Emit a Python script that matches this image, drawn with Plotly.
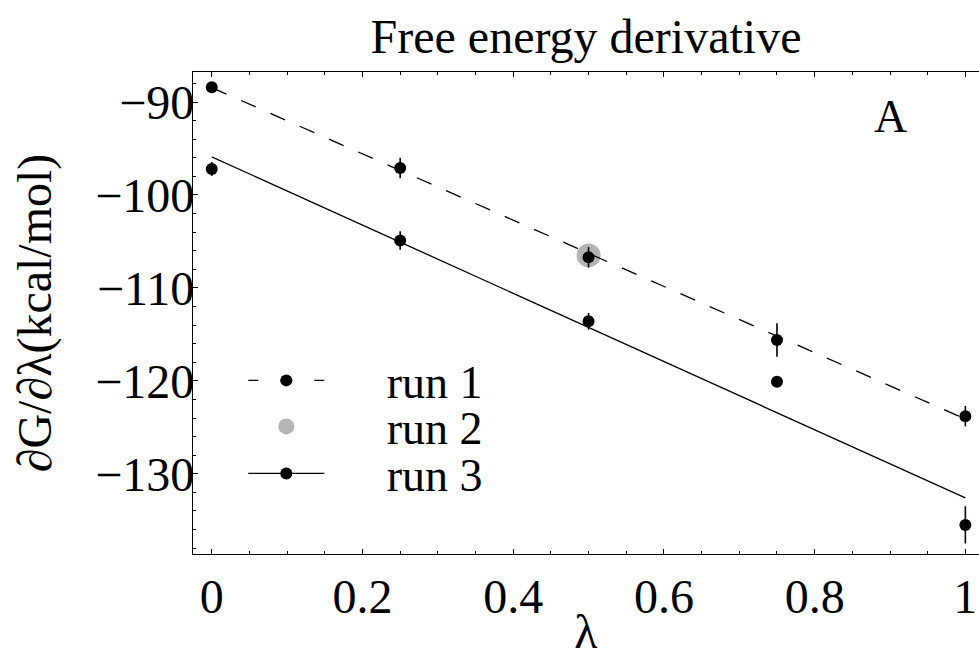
import plotly.graph_objects as go

# ---- data ----
lam = [0, 0.25, 0.5, 0.75, 1]
run1 = [-88.4, -97.1, -106.7, -115.6, -123.8]
run1_err = [0.4, 1.1, 1.1, 1.8, 1.1]
run3 = [-97.2, -104.9, -113.6, -120.1, -135.5]
run3_err = [0.75, 1.0, 0.9, 0.4, 2.0]
run2_lam = [0.5]
run2 = [-106.5]
fit_lam = [0, 1]
fit_run1 = [-88.45, -124.1]
fit_run3 = [-95.9, -132.6]

x_ticks = [0, 0.2, 0.4, 0.6, 0.8, 1]
x_tick_labels = ["0", "0.2", "0.4", "0.6", "0.8", "1"]
y_ticks = [-90, -100, -110, -120, -130]
y_tick_labels = ["\u221290", "\u2212100", "\u2212110", "\u2212120", "\u2212130"]

FONT = "'Liberation Serif', Tinos, 'Times New Roman', 'DejaVu Serif', serif"
BLACK = "black"
GRAY = "#b4b4b4"
NB = "\u00a0" * 5

fig = go.Figure()

# run 2 (gray, drawn first so run 1 sits on top)
fig.add_trace(go.Scatter(x=run2_lam, y=run2, mode="markers", name=NB + "run 2",
                         marker=dict(size=24, color=GRAY), legend="legend2", showlegend=True))
# fit lines
fig.add_trace(go.Scatter(x=fit_lam, y=fit_run1, mode="lines", showlegend=False,
                         line=dict(color=BLACK, width=1.3, dash="16px,16px")))
fig.add_trace(go.Scatter(x=fit_lam, y=fit_run3, mode="lines", showlegend=False,
                         line=dict(color=BLACK, width=1.3)))
# data points with error bars
fig.add_trace(go.Scatter(x=lam, y=run1, mode="markers", showlegend=False,
                         marker=dict(size=12, color=BLACK),
                         error_y=dict(type="data", array=run1_err, width=0, thickness=1.6, color=BLACK)))
fig.add_trace(go.Scatter(x=lam, y=run3, mode="markers", showlegend=False,
                         marker=dict(size=12, color=BLACK),
                         error_y=dict(type="data", array=run3_err, width=0, thickness=1.6, color=BLACK)))
# legend entries (no data drawn)
fig.add_trace(go.Scatter(x=[None], y=[None], mode="lines+markers", name=NB + "run 1",
                         line=dict(color=BLACK, width=1.3, dash="10px,22px,12px,22px,10px,100px"),
                         marker=dict(size=12, color=BLACK), legend="legend"))
fig.add_trace(go.Scatter(x=[None], y=[None], mode="lines+markers", name=NB + "run 3",
                         line=dict(color=BLACK, width=1.3),
                         marker=dict(size=12, color=BLACK), legend="legend3"))

leg_common = dict(xanchor="left", yanchor="middle", bgcolor="rgba(0,0,0,0)",
                  borderwidth=0, itemwidth=76, font=dict(family=FONT, size=46, color=BLACK))
LX = 0.064

axis_common = dict(showline=True, linecolor=BLACK, linewidth=1.2, ticks="inside",
                   tickcolor=BLACK, tickwidth=1, ticklen=5, showgrid=False, zeroline=False,
                   tickfont=dict(family=FONT, size=48, color=BLACK))

fig.update_layout(
    width=979, height=658,
    margin=dict(l=193, r=0, t=72, b=97),
    paper_bgcolor="white", plot_bgcolor="white",
    font=dict(family=FONT, color=BLACK),
    title=dict(text="Free energy derivative", x=0.5, xref="paper", y=0.945, yref="container",
               xanchor="center", yanchor="middle", font=dict(family=FONT, size=48, color=BLACK)),
    xaxis=dict(range=[-0.0249, 1.0181], tickvals=x_ticks, ticktext=x_tick_labels,
               mirror="ticks",
               minor=dict(dtick=0.05, tick0=0, ticks="inside", ticklen=3, tickcolor=BLACK, tickwidth=1),
               title=dict(text="\u03bb", font=dict(family=FONT, size=48, color=BLACK), standoff=2),
               **axis_common),
    yaxis=dict(range=[-138.63, -86.77], tickvals=y_ticks, ticktext=y_tick_labels,
               minor=dict(dtick=2, tick0=-90, ticks="inside", ticklen=3, tickcolor=BLACK, tickwidth=1),
               title=dict(text="\u2202G/\u2202\u03bb(kcal/mol)", font=dict(family=FONT, size=48, color=BLACK),
                          standoff=28),
               ticklabelstandoff=-12,
               **axis_common),
    legend=dict(x=LX, y=0.36, **leg_common),
    legend2=dict(x=LX, y=0.2644, **leg_common),
    legend3=dict(x=LX, y=0.167, **leg_common),
    annotations=[dict(text="A", xref="paper", yref="paper", x=0.8868, y=0.907,
                      xanchor="center", yanchor="middle", showarrow=False,
                      font=dict(family=FONT, size=46, color=BLACK))],
)

fig.write_html("out.html")
